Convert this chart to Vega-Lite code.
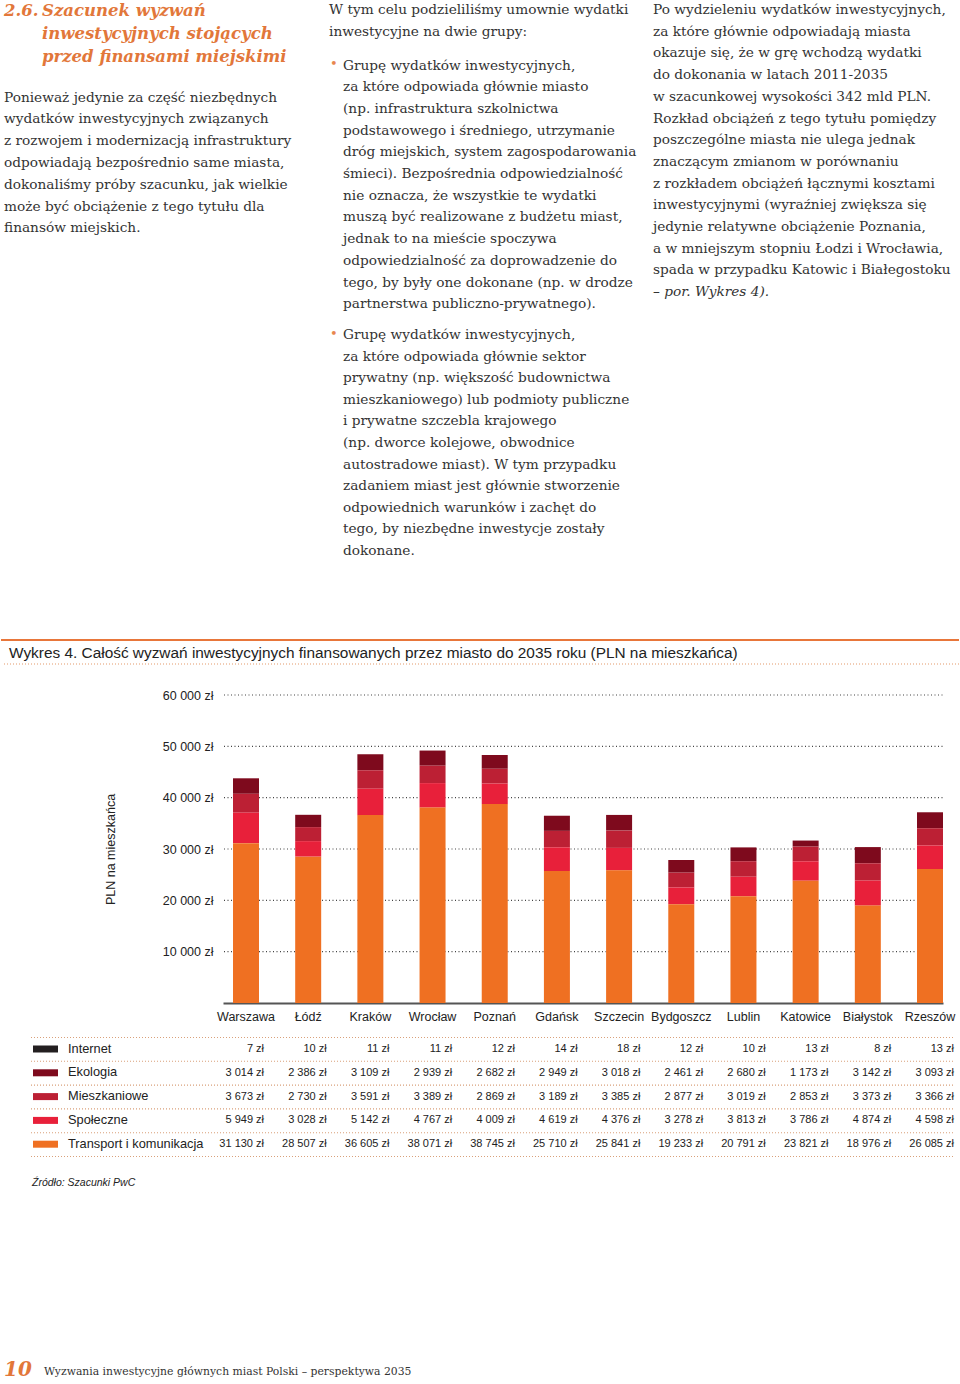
{
  "$schema": "https://vega.github.io/schema/vega-lite/v6.json",
  "width": 960,
  "height": 1384,
  "autosize": {"type": "fit", "contains": "padding"},
  "padding": 0,
  "background": "#ffffff",
  "config": {
    "view": {"stroke": null},
    "locale": {"number": {"decimal": ",", "thousands": " ", "grouping": [3], "currency": ["", " zł"]}},
    "text": {"font": "DejaVu Serif", "fontSize": 13.7, "color": "#333333", "align": "left", "baseline": "middle"}
  },
  "resolve": {"scale": {"x": "independent", "y": "independent"}},
  "datasets": {
    "spend": [
      {"city": "Warszawa", "category": "Internet", "value": 7},
      {"city": "Łódź", "category": "Internet", "value": 10},
      {"city": "Kraków", "category": "Internet", "value": 11},
      {"city": "Wrocław", "category": "Internet", "value": 11},
      {"city": "Poznań", "category": "Internet", "value": 12},
      {"city": "Gdańsk", "category": "Internet", "value": 14},
      {"city": "Szczecin", "category": "Internet", "value": 18},
      {"city": "Bydgoszcz", "category": "Internet", "value": 12},
      {"city": "Lublin", "category": "Internet", "value": 10},
      {"city": "Katowice", "category": "Internet", "value": 13},
      {"city": "Białystok", "category": "Internet", "value": 8},
      {"city": "Rzeszów", "category": "Internet", "value": 13},
      {"city": "Warszawa", "category": "Ekologia", "value": 3014},
      {"city": "Łódź", "category": "Ekologia", "value": 2386},
      {"city": "Kraków", "category": "Ekologia", "value": 3109},
      {"city": "Wrocław", "category": "Ekologia", "value": 2939},
      {"city": "Poznań", "category": "Ekologia", "value": 2682},
      {"city": "Gdańsk", "category": "Ekologia", "value": 2949},
      {"city": "Szczecin", "category": "Ekologia", "value": 3018},
      {"city": "Bydgoszcz", "category": "Ekologia", "value": 2461},
      {"city": "Lublin", "category": "Ekologia", "value": 2680},
      {"city": "Katowice", "category": "Ekologia", "value": 1173},
      {"city": "Białystok", "category": "Ekologia", "value": 3142},
      {"city": "Rzeszów", "category": "Ekologia", "value": 3093},
      {"city": "Warszawa", "category": "Mieszkaniowe", "value": 3673},
      {"city": "Łódź", "category": "Mieszkaniowe", "value": 2730},
      {"city": "Kraków", "category": "Mieszkaniowe", "value": 3591},
      {"city": "Wrocław", "category": "Mieszkaniowe", "value": 3389},
      {"city": "Poznań", "category": "Mieszkaniowe", "value": 2869},
      {"city": "Gdańsk", "category": "Mieszkaniowe", "value": 3189},
      {"city": "Szczecin", "category": "Mieszkaniowe", "value": 3385},
      {"city": "Bydgoszcz", "category": "Mieszkaniowe", "value": 2877},
      {"city": "Lublin", "category": "Mieszkaniowe", "value": 3019},
      {"city": "Katowice", "category": "Mieszkaniowe", "value": 2853},
      {"city": "Białystok", "category": "Mieszkaniowe", "value": 3373},
      {"city": "Rzeszów", "category": "Mieszkaniowe", "value": 3366},
      {"city": "Warszawa", "category": "Społeczne", "value": 5949},
      {"city": "Łódź", "category": "Społeczne", "value": 3028},
      {"city": "Kraków", "category": "Społeczne", "value": 5142},
      {"city": "Wrocław", "category": "Społeczne", "value": 4767},
      {"city": "Poznań", "category": "Społeczne", "value": 4009},
      {"city": "Gdańsk", "category": "Społeczne", "value": 4619},
      {"city": "Szczecin", "category": "Społeczne", "value": 4376},
      {"city": "Bydgoszcz", "category": "Społeczne", "value": 3278},
      {"city": "Lublin", "category": "Społeczne", "value": 3813},
      {"city": "Katowice", "category": "Społeczne", "value": 3786},
      {"city": "Białystok", "category": "Społeczne", "value": 4874},
      {"city": "Rzeszów", "category": "Społeczne", "value": 4598},
      {"city": "Warszawa", "category": "Transport i komunikacja", "value": 31130},
      {"city": "Łódź", "category": "Transport i komunikacja", "value": 28507},
      {"city": "Kraków", "category": "Transport i komunikacja", "value": 36605},
      {"city": "Wrocław", "category": "Transport i komunikacja", "value": 38071},
      {"city": "Poznań", "category": "Transport i komunikacja", "value": 38745},
      {"city": "Gdańsk", "category": "Transport i komunikacja", "value": 25710},
      {"city": "Szczecin", "category": "Transport i komunikacja", "value": 25841},
      {"city": "Bydgoszcz", "category": "Transport i komunikacja", "value": 19233},
      {"city": "Lublin", "category": "Transport i komunikacja", "value": 20791},
      {"city": "Katowice", "category": "Transport i komunikacja", "value": 23821},
      {"city": "Białystok", "category": "Transport i komunikacja", "value": 18976},
      {"city": "Rzeszów", "category": "Transport i komunikacja", "value": 26085}
    ],
    "gridTicks": [{"tick": 10000}, {"tick": 20000}, {"tick": 30000}, {"tick": 40000}, {"tick": 50000}, {"tick": 60000}],
    "categories": [{"category": "Internet"}, {"category": "Ekologia"}, {"category": "Mieszkaniowe"}, {"category": "Społeczne"}, {"category": "Transport i komunikacja"}],
    "separators": [{"sep": 0}, {"sep": 1}, {"sep": 2}, {"sep": 3}, {"sep": 4}, {"sep": 5}],
    "heading": [
      {"col": "num", "line": 0, "text": "2.6."},
      {"col": "title", "line": 0, "text": "Szacunek wyzwań"},
      {"col": "title", "line": 1, "text": "inwestycyjnych stojących"},
      {"col": "title", "line": 2, "text": "przed finansami miejskimi"}
    ],
    "body1": [
      {"col": "left", "line": 0, "text": "Ponieważ jedynie za część niezbędnych"},
      {"col": "left", "line": 1, "text": "wydatków inwestycyjnych związanych"},
      {"col": "left", "line": 2, "text": "z rozwojem i modernizacją infrastruktury"},
      {"col": "left", "line": 3, "text": "odpowiadają bezpośrednio same miasta,"},
      {"col": "left", "line": 4, "text": "dokonaliśmy próby szacunku, jak wielkie"},
      {"col": "left", "line": 5, "text": "może być obciążenie z tego tytułu dla"},
      {"col": "left", "line": 6, "text": "finansów miejskich."}
    ],
    "intro2": [
      {"col": "mid", "line": 0, "text": "W tym celu podzieliliśmy umownie wydatki"},
      {"col": "mid", "line": 1, "text": "inwestycyjne na dwie grupy:"}
    ],
    "bullet1": [
      {"col": "mid", "line": 0, "text": "Grupę wydatków inwestycyjnych,"},
      {"col": "mid", "line": 1, "text": "za które odpowiada głównie miasto"},
      {"col": "mid", "line": 2, "text": "(np. infrastruktura szkolnictwa"},
      {"col": "mid", "line": 3, "text": "podstawowego i średniego, utrzymanie"},
      {"col": "mid", "line": 4, "text": "dróg miejskich, system zagospodarowania"},
      {"col": "mid", "line": 5, "text": "śmieci). Bezpośrednia odpowiedzialność"},
      {"col": "mid", "line": 6, "text": "nie oznacza, że wszystkie te wydatki"},
      {"col": "mid", "line": 7, "text": "muszą być realizowane z budżetu miast,"},
      {"col": "mid", "line": 8, "text": "jednak to na mieście spoczywa"},
      {"col": "mid", "line": 9, "text": "odpowiedzialność za doprowadzenie do"},
      {"col": "mid", "line": 10, "text": "tego, by były one dokonane (np. w drodze"},
      {"col": "mid", "line": 11, "text": "partnerstwa publiczno-prywatnego)."}
    ],
    "bullet2": [
      {"col": "mid", "line": 0, "text": "Grupę wydatków inwestycyjnych,"},
      {"col": "mid", "line": 1, "text": "za które odpowiada głównie sektor"},
      {"col": "mid", "line": 2, "text": "prywatny (np. większość budownictwa"},
      {"col": "mid", "line": 3, "text": "mieszkaniowego) lub podmioty publiczne"},
      {"col": "mid", "line": 4, "text": "i prywatne szczebla krajowego"},
      {"col": "mid", "line": 5, "text": "(np. dworce kolejowe, obwodnice"},
      {"col": "mid", "line": 6, "text": "autostradowe miast). W tym przypadku"},
      {"col": "mid", "line": 7, "text": "zadaniem miast jest głównie stworzenie"},
      {"col": "mid", "line": 8, "text": "odpowiednich warunków i zachęt do"},
      {"col": "mid", "line": 9, "text": "tego, by niezbędne inwestycje zostały"},
      {"col": "mid", "line": 10, "text": "dokonane."}
    ],
    "bullets": [{"col": "dot", "line": 0, "text": "•"}, {"col": "dot", "line": 1, "text": "•"}],
    "col3": [
      {"col": "right", "line": 0, "text": "Po wydzieleniu wydatków inwestycyjnych,"},
      {"col": "right", "line": 1, "text": "za które głównie odpowiadają miasta"},
      {"col": "right", "line": 2, "text": "okazuje się, że w grę wchodzą wydatki"},
      {"col": "right", "line": 3, "text": "do dokonania w latach 2011-2035"},
      {"col": "right", "line": 4, "text": "w szacunkowej wysokości 342 mld PLN."},
      {"col": "right", "line": 5, "text": "Rozkład obciążeń z tego tytułu pomiędzy"},
      {"col": "right", "line": 6, "text": "poszczególne miasta nie ulega jednak"},
      {"col": "right", "line": 7, "text": "znaczącym zmianom w porównaniu"},
      {"col": "right", "line": 8, "text": "z rozkładem obciążeń łącznymi kosztami"},
      {"col": "right", "line": 9, "text": "inwestycyjnymi (wyraźniej zwiększa się"},
      {"col": "right", "line": 10, "text": "jedynie relatywne obciążenie Poznania,"},
      {"col": "right", "line": 11, "text": "a w mniejszym stopniu Łodzi i Wrocławia,"},
      {"col": "right", "line": 12, "text": "spada w przypadku Katowic i Białegostoku"}
    ],
    "col3italic": [
      {"col": "right", "line": 13, "text": "– por. Wykres 4)."}
    ],
    "chartTitle": [{"col": "t", "line": 0, "text": "Wykres 4. Całość wyzwań inwestycyjnych finansowanych przez miasto do 2035 roku (PLN na mieszkańca)"}],
    "frame": [{"part": "top"}],
    "source": [{"col": "s", "line": 0, "text": "Źródło: Szacunki PwC"}],
    "pageNum": [{"col": "n", "line": 0, "text": "10"}],
    "footer": [{"col": "f", "line": 0, "text": "Wyzwania inwestycyjne głównych miast Polski – perspektywa 2035"}]
  },
  "layer": [
    {
      "data": {"name": "heading"},
      "mark": {"type": "text", "fontStyle": "italic", "fontWeight": "bold", "fontSize": 16.5, "color": "#E2773A"},
      "encoding": {
        "x": {"field": "col", "type": "nominal", "scale": {"type": "point", "domain": ["num", "title"], "range": [3, 41], "padding": 0}, "axis": null},
        "y": {"field": "line", "type": "quantitative", "scale": {"domain": [0, 1], "range": [11, 34], "zero": false, "nice": false}, "axis": null},
        "text": {"field": "text"}
      }
    },
    {
      "data": {"name": "body1"},
      "mark": {"type": "text"},
      "encoding": {
        "x": {"field": "col", "type": "nominal", "scale": {"type": "point", "domain": ["left"], "range": [3, 3], "padding": 0}, "axis": null},
        "y": {"field": "line", "type": "quantitative", "scale": {"domain": [0, 1], "range": [97.5, 119.3], "zero": false, "nice": false}, "axis": null},
        "text": {"field": "text"}
      }
    },
    {
      "data": {"name": "intro2"},
      "mark": {"type": "text"},
      "encoding": {
        "x": {"field": "col", "type": "nominal", "scale": {"type": "point", "domain": ["mid"], "range": [328, 328], "padding": 0}, "axis": null},
        "y": {"field": "line", "type": "quantitative", "scale": {"domain": [0, 1], "range": [10, 31.7], "zero": false, "nice": false}, "axis": null},
        "text": {"field": "text"}
      }
    },
    {
      "data": {"name": "bullet1"},
      "mark": {"type": "text"},
      "encoding": {
        "x": {"field": "col", "type": "nominal", "scale": {"type": "point", "domain": ["mid"], "range": [342, 342], "padding": 0}, "axis": null},
        "y": {"field": "line", "type": "quantitative", "scale": {"domain": [0, 1], "range": [65.5, 87.2], "zero": false, "nice": false}, "axis": null},
        "text": {"field": "text"}
      }
    },
    {
      "data": {"name": "bullet2"},
      "mark": {"type": "text"},
      "encoding": {
        "x": {"field": "col", "type": "nominal", "scale": {"type": "point", "domain": ["mid"], "range": [342, 342], "padding": 0}, "axis": null},
        "y": {"field": "line", "type": "quantitative", "scale": {"domain": [0, 1], "range": [335, 356.6], "zero": false, "nice": false}, "axis": null},
        "text": {"field": "text"}
      }
    },
    {
      "data": {"name": "bullets"},
      "mark": {"type": "text", "color": "#E8874F", "fontSize": 13},
      "encoding": {
        "x": {"field": "col", "type": "nominal", "scale": {"type": "point", "domain": ["dot"], "range": [329, 329], "padding": 0}, "axis": null},
        "y": {"field": "line", "type": "quantitative", "scale": {"domain": [0, 1], "range": [64, 334], "zero": false, "nice": false}, "axis": null},
        "text": {"field": "text"}
      }
    },
    {
      "data": {"name": "col3"},
      "mark": {"type": "text"},
      "encoding": {
        "x": {"field": "col", "type": "nominal", "scale": {"type": "point", "domain": ["right"], "range": [652, 652], "padding": 0}, "axis": null},
        "y": {"field": "line", "type": "quantitative", "scale": {"domain": [0, 1], "range": [10, 31.7], "zero": false, "nice": false}, "axis": null},
        "text": {"field": "text"}
      }
    },
    {
      "data": {"name": "col3italic"},
      "mark": {"type": "text", "fontStyle": "italic"},
      "encoding": {
        "x": {"field": "col", "type": "nominal", "scale": {"type": "point", "domain": ["right"], "range": [652, 652], "padding": 0}, "axis": null},
        "y": {"field": "line", "type": "quantitative", "scale": {"domain": [0, 1], "range": [10, 31.7], "zero": false, "nice": false}, "axis": null},
        "text": {"field": "text"}
      }
    },
    {
      "data": {"name": "frame"},
      "mark": {"type": "rule", "color": "#E8763A", "strokeWidth": 2},
      "encoding": {
        "x": {"datum": 0, "type": "quantitative", "scale": {"domain": [0, 1], "range": [0, 958]}, "axis": null},
        "x2": {"datum": 1},
        "y": {"datum": 0, "type": "quantitative", "scale": {"domain": [0, 1], "range": [640, 641]}, "axis": null}
      }
    },
    {
      "data": {"name": "chartTitle"},
      "mark": {"type": "text", "font": "Liberation Sans", "fontSize": 15.4, "color": "#222222"},
      "encoding": {
        "x": {"field": "col", "type": "nominal", "scale": {"type": "point", "domain": ["t"], "range": [8, 8], "padding": 0}, "axis": null},
        "y": {"field": "line", "type": "quantitative", "scale": {"domain": [0, 1], "range": [653, 654], "zero": false, "nice": false}, "axis": null},
        "text": {"field": "text"}
      }
    },
    {
      "data": {"name": "frame"},
      "mark": {"type": "rule", "color": "#E49A6A", "strokeWidth": 1.2, "strokeDash": [1, 2]},
      "encoding": {
        "x": {"datum": 0, "type": "quantitative", "scale": {"domain": [0, 1], "range": [3, 958]}, "axis": null},
        "x2": {"datum": 1},
        "y": {"datum": 0, "type": "quantitative", "scale": {"domain": [0, 1], "range": [664, 665]}, "axis": null}
      }
    },
    {
      "data": {"name": "gridTicks"},
      "mark": {"type": "rule", "color": "#444444", "strokeWidth": 1.1, "strokeDash": [1, 2.5]},
      "encoding": {
        "x": {"datum": 0, "type": "quantitative", "scale": {"domain": [0, 1], "range": [223, 942]}, "axis": null},
        "x2": {"datum": 1},
        "y": {"field": "tick", "type": "quantitative", "scale": {"domain": [0, 60000], "range": [1003, 695], "nice": false}, "axis": null}
      }
    },
    {
      "data": {"name": "spend"},
      "mark": {"type": "bar", "width": {"band": 1}},
      "encoding": {
        "x": {
          "field": "city", "type": "nominal", "sort": null,
          "scale": {"type": "band", "domain": ["Warszawa", "Łódź", "Kraków", "Wrocław", "Poznań", "Gdańsk", "Szczecin", "Bydgoszcz", "Lublin", "Katowice", "Białystok", "Rzeszów"], "range": [222, 942], "paddingInner": 0.582, "paddingOuter": 0.0805, "align": 1},
          "axis": {"orient": "bottom", "offset": -381, "title": null, "domain": true, "domainColor": "#555555", "domainWidth": 2, "ticks": false, "grid": false, "labelAngle": 0, "labelPadding": 7, "labelFont": "Liberation Sans", "labelFontSize": 12.5, "labelColor": "#222222"}
        },
        "y": {
          "field": "value", "type": "quantitative", "stack": "zero",
          "scale": {"domain": [0, 60000], "range": [1003, 695], "nice": false},
          "axis": {"orient": "left", "offset": -222, "values": [10000, 20000, 30000, 40000, 50000, 60000], "format": "$,.0f", "domain": false, "ticks": false, "grid": false, "labelPadding": 10, "labelFont": "Liberation Sans", "labelFontSize": 12.5, "labelColor": "#222222", "title": "PLN na mieszkańca", "titleFont": "Liberation Sans", "titleFontSize": 12.5, "titleFontWeight": "normal", "titleColor": "#222222", "titleX": -106}
        },
        "color": {
          "field": "category", "type": "nominal",
          "scale": {"domain": ["Internet", "Ekologia", "Mieszkaniowe", "Społeczne", "Transport i komunikacja"], "range": ["#231F20", "#7E0A1D", "#BC2034", "#E8203A", "#EF7022"]},
          "legend": null
        },
        "order": {"field": "category", "sort": "descending"}
      }
    },
    {
      "data": {"name": "separators"},
      "mark": {"type": "rule", "color": "#D9A07A", "strokeWidth": 1.1, "strokeDash": [1, 2]},
      "encoding": {
        "x": {"datum": 0, "type": "quantitative", "scale": {"domain": [0, 1], "range": [30, 953]}, "axis": null},
        "x2": {"datum": 1},
        "y": {"field": "sep", "type": "quantitative", "scale": {"domain": [0, 1], "range": [1037.5, 1061.3], "zero": false, "nice": false}, "axis": null}
      }
    },
    {
      "data": {"name": "categories"},
      "mark": {"type": "point", "shape": "M-1,-0.28H1V0.28H-1Z", "filled": true, "size": 625, "opacity": 1, "strokeWidth": 0},
      "encoding": {
        "x": {"datum": 0, "type": "quantitative", "scale": {"domain": [0, 1], "range": [44.5, 45.5]}, "axis": null},
        "y": {"field": "category", "type": "nominal", "sort": null, "scale": {"type": "point", "domain": ["Internet", "Ekologia", "Mieszkaniowe", "Społeczne", "Transport i komunikacja"], "range": [1049, 1144.2], "padding": 0}, "axis": null},
        "color": {"field": "category", "type": "nominal", "legend": null}
      }
    },
    {
      "data": {"name": "categories"},
      "mark": {"type": "text", "font": "Liberation Sans", "fontSize": 12.8, "color": "#222222"},
      "encoding": {
        "x": {"datum": 0, "type": "quantitative", "scale": {"domain": [0, 1], "range": [67, 68]}, "axis": null},
        "y": {"field": "category", "type": "nominal", "sort": null, "scale": {"type": "point", "domain": ["Internet", "Ekologia", "Mieszkaniowe", "Społeczne", "Transport i komunikacja"], "range": [1048.5, 1143.7], "padding": 0}, "axis": null},
        "text": {"field": "category"}
      }
    },
    {
      "data": {"name": "spend"},
      "mark": {"type": "text", "font": "Liberation Sans", "fontSize": 11, "color": "#222222", "align": "right"},
      "encoding": {
        "x": {"field": "city", "type": "nominal", "sort": null, "scale": {"type": "point", "domain": ["Warszawa", "Łódź", "Kraków", "Wrocław", "Poznań", "Gdańsk", "Szczecin", "Bydgoszcz", "Lublin", "Katowice", "Białystok", "Rzeszów"], "range": [263, 953], "padding": 0}, "axis": null},
        "y": {"field": "category", "type": "nominal", "sort": null, "scale": {"type": "point", "domain": ["Internet", "Ekologia", "Mieszkaniowe", "Społeczne", "Transport i komunikacja"], "range": [1049, 1144.2], "padding": 0}, "axis": null},
        "text": {"field": "value", "type": "quantitative", "format": "$,.0f"}
      }
    },
    {
      "data": {"name": "source"},
      "mark": {"type": "text", "font": "Liberation Sans", "fontStyle": "italic", "fontSize": 10.5, "color": "#222222"},
      "encoding": {
        "x": {"field": "col", "type": "nominal", "scale": {"type": "point", "domain": ["s"], "range": [31, 31], "padding": 0}, "axis": null},
        "y": {"field": "line", "type": "quantitative", "scale": {"domain": [0, 1], "range": [1183, 1184], "zero": false, "nice": false}, "axis": null},
        "text": {"field": "text"}
      }
    },
    {
      "data": {"name": "pageNum"},
      "mark": {"type": "text", "fontStyle": "italic", "fontWeight": "bold", "fontSize": 20, "color": "#E2773A"},
      "encoding": {
        "x": {"field": "col", "type": "nominal", "scale": {"type": "point", "domain": ["n"], "range": [3, 3], "padding": 0}, "axis": null},
        "y": {"field": "line", "type": "quantitative", "scale": {"domain": [0, 1], "range": [1370, 1371], "zero": false, "nice": false}, "axis": null},
        "text": {"field": "text"}
      }
    },
    {
      "data": {"name": "footer"},
      "mark": {"type": "text", "fontSize": 10.8, "color": "#333333"},
      "encoding": {
        "x": {"field": "col", "type": "nominal", "scale": {"type": "point", "domain": ["f"], "range": [43, 43], "padding": 0}, "axis": null},
        "y": {"field": "line", "type": "quantitative", "scale": {"domain": [0, 1], "range": [1372, 1373], "zero": false, "nice": false}, "axis": null},
        "text": {"field": "text"}
      }
    }
  ]
}
